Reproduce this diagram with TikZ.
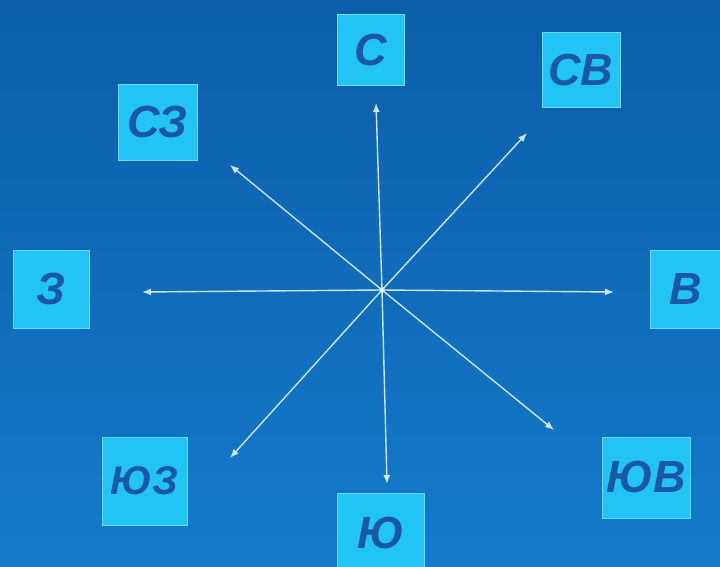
\documentclass[tikz,border=0pt]{standalone}
\usepackage{fontspec}
\setmainfont{Liberation Sans}
\usepackage{xcolor}
\usetikzlibrary{arrows.meta,positioning,calc}

\definecolor{bgtop}{RGB}{12,94,170}
\definecolor{bgbottom}{RGB}{20,122,204}
\definecolor{boxfill}{RGB}{34,196,245}
\definecolor{boxline}{RGB}{110,220,255}
\definecolor{dirtext}{RGB}{26,88,162}
\definecolor{raycol}{RGB}{205,230,252}

\begin{document}
\begin{tikzpicture}[
    x=1pt, y=-1pt,
    dirbox/.style={rectangle, draw=boxline, line width=1pt, fill=boxfill, inner sep=0pt, text=dirtext, font=\fontsize{45}{45}\selectfont\bfseries\itshape},
    ray/.style={draw=raycol, line width=1.4pt, -{Latex[length=9pt, width=7pt]}},
]

% --- Background ---
\shade[top color=bgtop, bottom color=bgbottom] (0,0) rectangle (720,567);
\useasboundingbox (0,0) rectangle (720,567);

% --- Direction boxes ---
\node[dirbox, minimum width=67pt, minimum height=71pt] (n)  at (370.5,50.5)  {С};
\node[dirbox, minimum width=78pt, minimum height=75pt] (ne) at (581,70.5)   {СВ};
\node[dirbox, minimum width=79pt, minimum height=75pt] (nw) at (157.5,122.5) {СЗ};
\node[dirbox, minimum width=76pt, minimum height=78pt] (w)  at (51,289)     {З};
\node[dirbox, minimum width=72pt, minimum height=78pt] (e)  at (686,289)    {В};
\node[dirbox, minimum width=85pt, minimum height=88pt, font=\fontsize{40}{40}\selectfont\bfseries\itshape] (sw) at (144.5,481) {ЮЗ};
\node[dirbox, minimum width=87pt, minimum height=80pt] (s)  at (380.5,533)  {Ю};
\node[dirbox, minimum width=88pt, minimum height=81pt] (se) at (646,477.5)  {ЮВ};

% --- Center and arrow tips ---
\coordinate (o) at (382,290);
\coordinate (tn)  at (376,103);
\coordinate (tne) at (527,133);
\coordinate (tnw) at (230,165);
\coordinate (tw)  at (142,292);
\coordinate (te)  at (614,292);
\coordinate (tsw) at (230,458);
\coordinate (ts)  at (387,484);
\coordinate (tse) at (554,430);

% --- Arrows ---
\foreach \t in {tn,tne,tnw,tw,te,tsw,ts,tse}
    \draw[ray] (o) -- (\t);
\fill[white, opacity=0.5] (o) circle (3pt);

\end{tikzpicture}
\end{document}
